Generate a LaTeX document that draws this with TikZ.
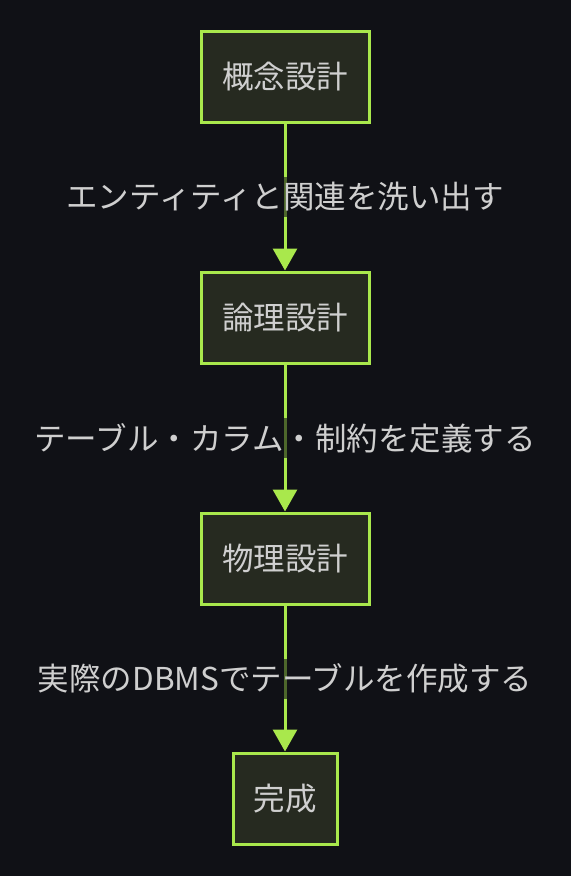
\documentclass[tikz,border=0pt]{standalone}
\usepackage{fontspec}
\setmainfont{Noto Sans CJK JP}
\usetikzlibrary{arrows.meta}
\definecolor{bgdark}{HTML}{101116}
\definecolor{boxline}{HTML}{A9E84C}
\definecolor{boxfill}{HTML}{262A20}
\definecolor{txtgray}{HTML}{CFCFCF}
\tikzset{
  stepbox/.style={draw=boxline, fill=boxfill, line width=3pt, text=txtgray,
    minimum height=91pt, inner sep=0pt, font=\fontsize{31.5}{36}\selectfont},
  flow/.style={draw=boxline, line width=3pt, -{Triangle[width=24pt,length=22pt]}},
  flowlabel/.style={fill=bgdark, fill opacity=0.6, text opacity=1, text=txtgray,
    inner sep=3pt, minimum height=40pt, font=\fontsize{31.5}{36}\selectfont}
}
\begin{document}
\begin{tikzpicture}[x=1pt,y=-1pt]
                        \fill[bgdark] (0,0) rectangle (571,876);
                        \useasboundingbox (0,0) rectangle (571,876);

                        \node[stepbox, minimum width=168pt] (gainen) at (285,76.5) {概念設計};
                        \node[stepbox, minimum width=168pt] (ronri) at (285,317.5) {論理設計};
                        \node[stepbox, minimum width=168pt] (butsuri) at (285,558.5) {物理設計};
                        \node[stepbox, minimum width=104pt] (kansei) at (285,798.5) {完成};

                        \draw[flow] (gainen) -- node[flowlabel] {エンティティと関連を洗い出す} (ronri);
                        \draw[flow] (ronri) -- node[flowlabel] {テーブル・カラム・制約を定義する} (butsuri);
                        \draw[flow] (butsuri) -- node[flowlabel] {実際のDBMSでテーブルを作成する} (kansei);
                    \end{tikzpicture}
\end{document}
